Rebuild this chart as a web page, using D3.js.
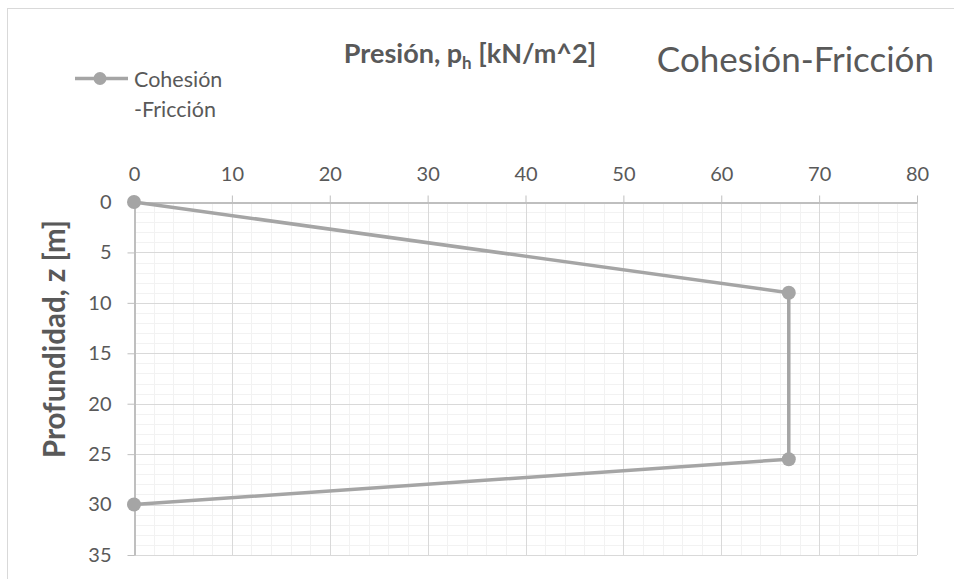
<!DOCTYPE html>
<html>
<head>
<meta charset="utf-8">
<script src="https://cdn.jsdelivr.net/npm/d3@7"></script>
<style>
  html, body { margin: 0; padding: 0; background: #fff; }
  svg { display: block; }
  text { font-family: Lato, "Open Sans", sans-serif; }
</style>
</head>
<body>
<svg id="chart" width="954" height="579"></svg>
<script>
// Horizontal earth pressure vs. depth (cohesion–friction soil)
const seriesName = "Cohesión-Fricción";
const pressure = [0, 66.9, 66.9, 0];      // p_h [kN/m^2]
const depth    = [0, 9, 25.5, 30];        // z [m]
const xTicks = [0, 10, 20, 30, 40, 50, 60, 70, 80];
const yTicks = [0, 5, 10, 15, 20, 25, 30, 35];
const xMinor = d3.range(0, 81, 2);
const yMinor = d3.range(0, 36, 1);

const svg = d3.select("#chart");
const W = 954, H = 579;
const plot = { left: 134, right: 917, top: 202, bottom: 555 };

const x = d3.scaleLinear().domain([0, 80]).range([plot.left, plot.right]);
const y = d3.scaleLinear().domain([0, 35]).range([plot.top, plot.bottom]);

const lineColor = "#a5a5a5";
const textColor = "#595959";

// chart area frame (top and left edges visible)
svg.append("rect")
  .attr("x", 7.5).attr("y", 8.5)
  .attr("width", W + 20).attr("height", H + 20)
  .attr("fill", "none").attr("stroke", "#d9d9d9").attr("stroke-width", 1);

// minor gridlines
const g = svg.append("g");
g.selectAll(".vminor").data(xMinor).join("line")
  .attr("x1", d => Math.round(x(d)) + 0.5).attr("x2", d => Math.round(x(d)) + 0.5)
  .attr("y1", plot.top).attr("y2", plot.bottom)
  .attr("stroke", "#f2f2f2").attr("stroke-width", 1);
g.selectAll(".hminor").data(yMinor).join("line")
  .attr("y1", d => Math.round(y(d)) + 0.5).attr("y2", d => Math.round(y(d)) + 0.5)
  .attr("x1", plot.left).attr("x2", plot.right)
  .attr("stroke", "#f2f2f2").attr("stroke-width", 1);

// major gridlines
g.selectAll(".vmajor").data(xTicks).join("line")
  .attr("x1", d => Math.round(x(d)) + 0.5).attr("x2", d => Math.round(x(d)) + 0.5)
  .attr("y1", plot.top).attr("y2", plot.bottom)
  .attr("stroke", "#d9d9d9").attr("stroke-width", 1);
g.selectAll(".hmajor").data(yTicks).join("line")
  .attr("y1", d => Math.round(y(d)) + 0.5).attr("y2", d => Math.round(y(d)) + 0.5)
  .attr("x1", plot.left).attr("x2", plot.right)
  .attr("stroke", "#d9d9d9").attr("stroke-width", 1);

// axes: x on top, y on left
const xAxis = svg.append("g")
  .attr("transform", `translate(0,${Math.round(y(0)) + 0.5})`)
  .call(d3.axisTop(x).tickValues(xTicks).tickSize(7).tickSizeOuter(0).tickPadding(15));
const yAxis = svg.append("g")
  .attr("transform", `translate(${Math.round(x(0)) + 0.5},0)`)
  .call(d3.axisLeft(y).tickValues(yTicks).tickSize(7).tickSizeOuter(0).tickPadding(16));

[xAxis, yAxis].forEach(ax => {
  ax.select(".domain").attr("stroke", "#bfbfbf").attr("stroke-width", 2);
  ax.selectAll(".tick line").attr("stroke", "#bfbfbf").attr("stroke-width", 1);
  ax.selectAll(".tick text")
    .attr("fill", textColor)
    .style("font-size", "20px")
    .style("font-family", "Lato, 'Open Sans', sans-serif");
});

// data line and markers
const line = d3.line().x((d, i) => x(pressure[i])).y((d, i) => y(depth[i]));
svg.append("path")
  .datum(pressure)
  .attr("d", line)
  .attr("fill", "none")
  .attr("stroke", lineColor)
  .attr("stroke-width", 3.5)
  .attr("stroke-linejoin", "round");
svg.selectAll(".pt").data(pressure).join("circle")
  .attr("cx", d => x(d))
  .attr("cy", (d, i) => y(depth[i]))
  .attr("r", 7)
  .attr("fill", lineColor);

// axis titles
const title = svg.append("text")
  .attr("x", 470).attr("y", 63)
  .attr("text-anchor", "middle")
  .attr("fill", textColor)
  .style("font-size", "27px").style("font-weight", "bold");
title.append("tspan").text("Presión, p");
title.append("tspan").attr("dy", 6).style("font-size", "17px").text("h");
title.append("tspan").attr("dy", -6).text(" [kN/m^2]");

svg.append("text")
  .attr("transform", `translate(65,339) rotate(-90)`)
  .attr("text-anchor", "middle")
  .attr("fill", textColor)
  .style("font-size", "29.5px").style("font-weight", "bold")
  .text("Profundidad, z [m]");

// chart title on the right
svg.append("text")
  .attr("x", 934).attr("y", 72)
  .attr("text-anchor", "end")
  .attr("fill", textColor)
  .style("font-size", "35px")
  .text(seriesName);

// legend
const lg = svg.append("g");
lg.append("line")
  .attr("x1", 75).attr("x2", 128).attr("y1", 78.5).attr("y2", 78.5)
  .attr("stroke", lineColor).attr("stroke-width", 3.5);
lg.append("circle").attr("cx", 100).attr("cy", 78.5).attr("r", 6.5).attr("fill", lineColor);
lg.append("text").attr("x", 134).attr("y", 87)
  .attr("fill", textColor).style("font-size", "21.5px").text("Cohesión");
lg.append("text").attr("x", 134).attr("y", 117)
  .attr("fill", textColor).style("font-size", "21.5px").text("-Fricción");
</script>
</body>
</html>
